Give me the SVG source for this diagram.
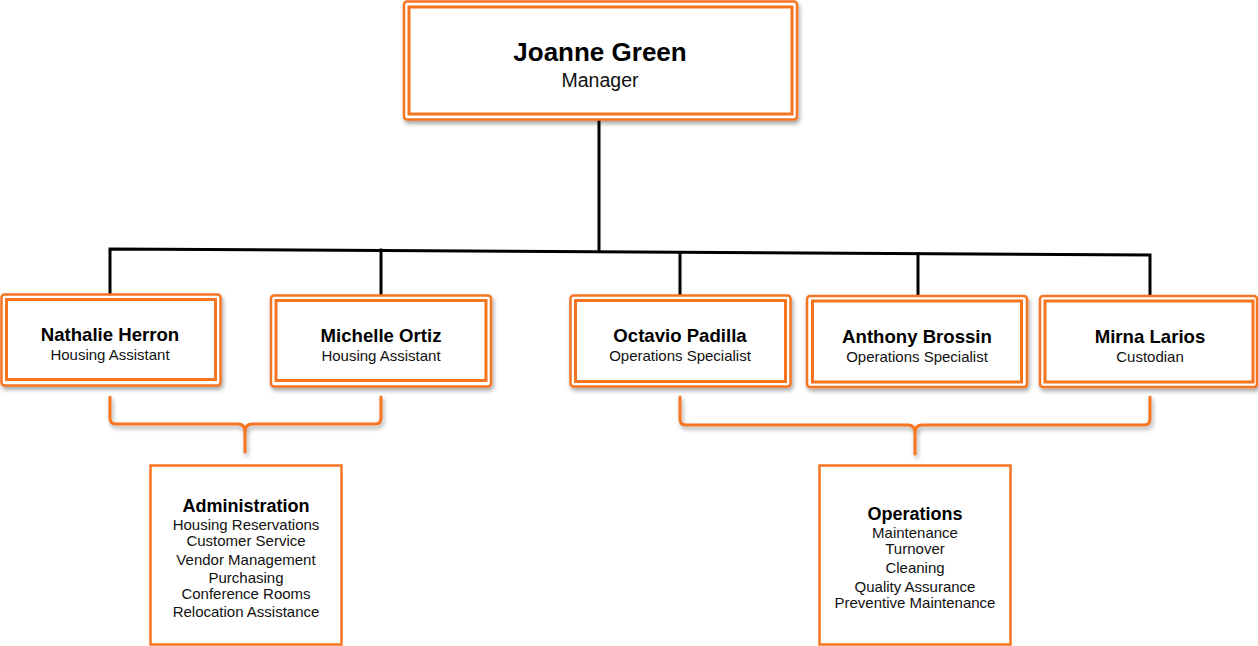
<svg xmlns="http://www.w3.org/2000/svg" width="1258" height="646" viewBox="0 0 1258 646">
<defs>
<filter id="sh" x="-10%" y="-10%" width="120%" height="130%">
<feDropShadow dx="1.5" dy="3" stdDeviation="2" flood-color="#000" flood-opacity="0.35"/>
</filter>
<style>
.outer{fill:#fff;stroke:#F57420;stroke-width:2.5}
.inner{fill:none;stroke:#F57420;stroke-width:3}
.box{fill:#fff;stroke:#F57420;stroke-width:2.5}
.conn{fill:none;stroke:#000;stroke-width:3;stroke-linecap:square}
.brace{fill:none;stroke:#F57420;stroke-width:3;stroke-linecap:round;stroke-linejoin:round}
.name{font-family:"Liberation Sans",Arial,sans-serif;font-weight:bold;font-size:18.6px;fill:#000;text-anchor:middle}
.title{font-family:"Liberation Sans",Arial,sans-serif;font-size:15px;fill:#111;text-anchor:middle}
.dept{font-family:"Liberation Sans",Arial,sans-serif;font-weight:bold;font-size:18px;fill:#000;text-anchor:middle}
.item{font-family:"Liberation Sans",Arial,sans-serif;font-size:15px;fill:#111;text-anchor:middle}
</style>
</defs>
<rect width="1258" height="646" fill="#fff"/>

<g id="connectors">
<line class="conn" x1="599" y1="120" x2="599" y2="251"/>
<polyline class="conn" points="110,295 110,249 1150,255 1150,296"/>
<line class="conn" x1="381" y1="250" x2="381" y2="296"/>
<line class="conn" x1="680" y1="253" x2="680" y2="295"/>
<line class="conn" x1="918" y1="254" x2="918" y2="296"/>
<g filter="url(#sh)">
<path class="brace" d="M110,397 V418 Q110,424 116,424 H238 Q245,424 245,432 V452 V432 Q245,424 252,424 H375 Q381,424 381,418 V397"/>
<path class="brace" d="M680,397 V419 Q680,425 686,425 H908 Q915,425 915,433 V454 V433 Q915,425 922,425 H1144 Q1150,425 1150,419 V397"/>
</g>
</g>

<g id="joanne">
<rect class="outer" x="404" y="1.5" width="393" height="118" rx="3" filter="url(#sh)"/>
<rect class="inner" x="409" y="7" width="383" height="107"/>
<text class="name" x="600" y="61" style="font-size:26px">Joanne Green</text>
<text class="title" x="600" y="87" style="font-size:19.5px">Manager</text>
</g>

<g id="nathalie">
<rect class="outer" x="1.5" y="294.5" width="219" height="91" rx="3" filter="url(#sh)"/>
<rect class="inner" x="6.5" y="299.5" width="209" height="80"/>
<text class="name" x="110" y="341">Nathalie Herron</text>
<text class="title" x="110" y="360">Housing Assistant</text>
</g>

<g id="michelle">
<rect class="outer" x="271" y="295.5" width="220" height="91" rx="3" filter="url(#sh)"/>
<rect class="inner" x="276" y="300.5" width="210" height="80"/>
<text class="name" x="381" y="342">Michelle Ortiz</text>
<text class="title" x="381" y="361">Housing Assistant</text>
</g>

<g id="octavio">
<rect class="outer" x="570.5" y="295.5" width="220" height="91" rx="3" filter="url(#sh)"/>
<rect class="inner" x="575.5" y="300.5" width="210" height="81"/>
<text class="name" x="680" y="342">Octavio Padilla</text>
<text class="title" x="680" y="361">Operations Specialist</text>
</g>

<g id="anthony">
<rect class="outer" x="807" y="296" width="220" height="91" rx="3" filter="url(#sh)"/>
<rect class="inner" x="812.5" y="301" width="209" height="81"/>
<text class="name" x="917" y="343">Anthony Brossin</text>
<text class="title" x="917" y="362">Operations Specialist</text>
</g>

<g id="mirna">
<rect class="outer" x="1040" y="296" width="217" height="91" rx="3" filter="url(#sh)"/>
<rect class="inner" x="1045" y="301" width="208" height="81"/>
<text class="name" x="1150" y="343">Mirna Larios</text>
<text class="title" x="1150" y="362">Custodian</text>
</g>

<g id="administration">
<rect class="box" x="150.5" y="465.5" width="191" height="179"/>
<text class="dept" x="246" y="512">Administration</text>
<text class="item" x="246" y="530">Housing Reservations</text>
<text class="item" x="246" y="546">Customer Service</text>
<text class="item" x="246" y="565">Vendor Management</text>
<text class="item" x="246" y="583">Purchasing</text>
<text class="item" x="246" y="599">Conference Rooms</text>
<text class="item" x="246" y="617">Relocation Assistance</text>
</g>

<g id="operations">
<rect class="box" x="819.5" y="465.5" width="191" height="179"/>
<text class="dept" x="915" y="520">Operations</text>
<text class="item" x="915" y="538">Maintenance</text>
<text class="item" x="915" y="554">Turnover</text>
<text class="item" x="915" y="573">Cleaning</text>
<text class="item" x="915" y="592">Quality Assurance</text>
<text class="item" x="915" y="608">Preventive Maintenance</text>
</g>
</svg>
